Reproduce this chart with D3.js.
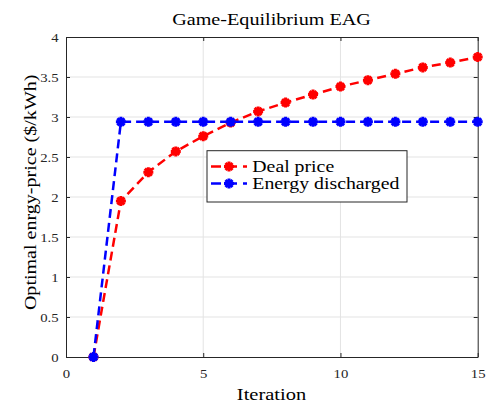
<!DOCTYPE html>
<html><head><meta charset="utf-8">
<script src="https://cdn.jsdelivr.net/npm/d3@7"></script>
<style>
body{margin:0;background:#fff;}
svg text{font-family:"Liberation Serif","Times New Roman",serif;}
</style></head>
<body><svg id="c" width="491" height="404"></svg>
<script>
const iterations = [1,2,3,4,5,6,7,8,9,10,11,12,13,14,15];
const dealPrice = [0,1.95,2.31,2.57,2.76,2.93,3.07,3.18,3.28,3.38,3.46,3.54,3.62,3.68,3.75];
const energyDischarged = [0,2.94,2.94,2.94,2.94,2.94,2.94,2.94,2.94,2.94,2.94,2.94,2.94,2.94,2.94];
const xTicks = [0,5,10,15];
const yTicks = [0,0.5,1,1.5,2,2.5,3,3.5,4];
const seriesNames = ["Deal price","Energy discharged"];
const seriesColors = ["#ff0000","#0000ff"];

const FONT = "Liberation Serif, Times New Roman, serif";
const svg = d3.select("#c");
const L=66, R=477.7, T=37, B=357;
const x = d3.scaleLinear().domain([0,15]).range([L,R]);
const y = d3.scaleLinear().domain([0,4]).range([B,T]);
const SX = 1.2;
const axisColor = "#262626";

// grid
svg.append("g").selectAll("line").data(xTicks.slice(1,-1)).join("line")
  .attr("x1",d=>x(d)).attr("x2",d=>x(d)).attr("y1",T).attr("y2",B)
  .attr("stroke","#e3e3e3").attr("stroke-width",1);
svg.append("g").selectAll("line").data(yTicks.slice(1,-1)).join("line")
  .attr("y1",d=>y(d)).attr("y2",d=>y(d)).attr("x1",L).attr("x2",R)
  .attr("stroke","#e3e3e3").attr("stroke-width",1);

// axes
const fmt = d3.format("~g");
const gx = svg.append("g").attr("transform",`translate(0,${B})`)
  .call(d3.axisBottom(x).tickValues(xTicks).tickFormat(fmt).tickSize(-4).tickSizeOuter(0).tickPadding(0));
const gy = svg.append("g").attr("transform",`translate(${L},0)`)
  .call(d3.axisLeft(y).tickValues(yTicks).tickFormat(fmt).tickSize(-4).tickSizeOuter(0).tickPadding(0));
const gt = svg.append("g").attr("transform",`translate(0,${T})`)
  .call(d3.axisTop(x).tickValues(xTicks).tickFormat("").tickSize(-4).tickSizeOuter(0));
const gr = svg.append("g").attr("transform",`translate(${R},0)`)
  .call(d3.axisRight(y).tickValues(yTicks).tickFormat("").tickSize(-4).tickSizeOuter(0));
[gx,gy,gt,gr].forEach(g=>{
  g.attr("font-family",FONT);
  g.select(".domain").attr("stroke",axisColor).attr("stroke-width",1);
  g.selectAll(".tick line").attr("stroke",axisColor);
});
gx.selectAll(".tick text").attr("y",20.7).attr("dy",null)
  .attr("transform",`scale(${SX},1)`).attr("font-size",12.3).attr("fill",axisColor).attr("font-family",FONT);
gy.selectAll(".tick text").attr("x",-7.3/SX).attr("dy","0.34em")
  .attr("transform",`scale(${SX},1)`).attr("font-size",12.3).attr("fill",axisColor).attr("font-family",FONT);

// series
const series = [dealPrice, energyDischarged];
const line = d3.line().x((d,i)=>x(iterations[i])).y(d=>y(d));
function starPath(r){
  const p = d3.path();
  for(let k=0;k<4;k++){
    const a = k*Math.PI/4;
    p.moveTo(r*Math.cos(a), r*Math.sin(a));
    p.lineTo(-r*Math.cos(a), -r*Math.sin(a));
  }
  return p.toString();
}
const star = starPath(5);
series.forEach((vals,si)=>{
  const g = svg.append("g");
  g.append("path").datum(vals).attr("d",line).attr("fill","none")
    .attr("stroke",seriesColors[si]).attr("stroke-width",2.5).attr("stroke-dasharray","9,5");
  g.selectAll("path.m").data(vals).join("path").attr("class","m")
    .attr("d",star).attr("transform",(d,i)=>`translate(${x(iterations[i])},${y(d)})`)
    .attr("stroke",seriesColors[si]).attr("stroke-width",3).attr("fill","none");
  g.selectAll("circle").data(vals).join("circle")
    .attr("cx",(d,i)=>x(iterations[i])).attr("cy",d=>y(d)).attr("r",3)
    .attr("fill",seriesColors[si]);
});

// legend
const lg = svg.append("g");
lg.append("rect").attr("x",207).attr("y",150.7).attr("width",200).attr("height",51.3)
  .attr("fill","#fff").attr("stroke",axisColor).attr("stroke-width",1);
seriesNames.forEach((name,i)=>{
  const cy = 166.5 + i*17;
  lg.append("line").attr("x1",211).attr("x2",247).attr("y1",cy).attr("y2",cy)
    .attr("stroke",seriesColors[i]).attr("stroke-width",2.5).attr("stroke-dasharray","10,6");
  lg.append("path").attr("d",star).attr("transform",`translate(229,${cy})`)
    .attr("stroke",seriesColors[i]).attr("stroke-width",3).attr("fill","none");
  lg.append("circle").attr("cx",229).attr("cy",cy).attr("r",3).attr("fill",seriesColors[i]);
  lg.append("text").attr("transform",`translate(252.3,${172.3+i*17}) scale(${SX},1)`)
    .attr("font-family",FONT).attr("font-size",16.5).attr("fill","#000").text(name);
});

// title & labels
svg.append("text").attr("transform",`translate(271.5,25) scale(${SX},1)`)
  .attr("font-family",FONT).attr("text-anchor","middle").attr("font-size",16.8).attr("fill","#000").text("Game-Equilibrium EAG");
svg.append("text").attr("transform",`translate(271.5,400) scale(1.17,1)`)
  .attr("font-family",FONT).attr("text-anchor","middle").attr("font-size",17.5).attr("fill","#000").text("Iteration");
svg.append("text").attr("transform",`translate(36,192.3) rotate(-90) scale(1.18,1)`)
  .attr("font-family",FONT).attr("text-anchor","middle").attr("font-size",17).attr("fill","#000").text("Optimal enrgy-price ($/kWh)");
</script></body></html>
